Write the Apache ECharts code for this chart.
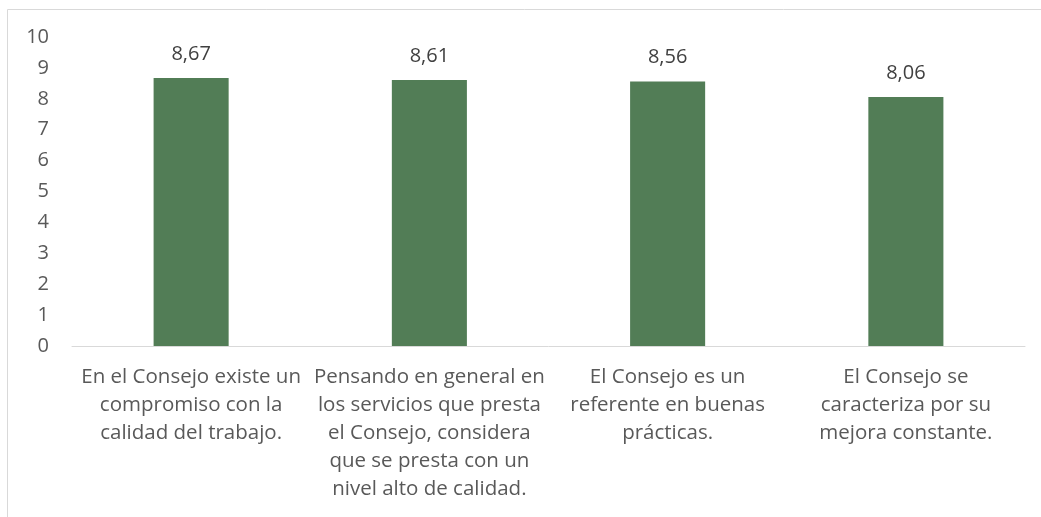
<!DOCTYPE html>
<html><head><meta charset="utf-8">
<script src="https://cdn.jsdelivr.net/npm/echarts@6/dist/echarts.min.js"></script>
<style>html,body{margin:0;padding:0;background:#fff}#c{width:1041px;height:517px}</style>
</head><body><div id="c"></div>
<script>
const categories = [
  "En el Consejo existe un\ncompromiso con la\ncalidad del trabajo.",
  "Pensando en general en\nlos servicios que presta\nel Consejo, considera\nque se presta con un\nnivel alto de calidad.",
  "El Consejo es un\nreferente en buenas\nprácticas.",
  "El Consejo se\ncaracteriza por su\nmejora constante."
];
const values = [8.67, 8.61, 8.56, 8.06];
const yTicks = [0, 10, 1];

const chart = echarts.init(document.getElementById('c'));
const font = '"Open Sans", sans-serif';
chart.setOption({
  animation: false,
  graphic: [{type:'rect', shape:{x:7.5,y:9.5,width:1100,height:600}, style:{fill:'none', stroke:'#d9d9d9', lineWidth:1}}],
  grid: {left: 72, right: 16, top: 37, bottom: 171},
  xAxis: {
    type: 'category', data: categories,
    axisLine: {lineStyle:{color:'#d9d9d9', width:1}},
    axisTick: {show:false},
    axisLabel: {color:'#595959', fontSize:20.5, fontFamily: font, lineHeight:28, margin:17, interval:0}
  },
  yAxis: {
    type: 'value', min: yTicks[0], max: yTicks[1], interval: yTicks[2],
    splitLine: {show:false}, axisLine:{show:false}, axisTick:{show:false},
    axisLabel: {color:'#595959', fontSize:20, fontFamily: font, margin:23}
  },
  series: [{
    type:'bar', data: values, barWidth:'31.5%',
    itemStyle:{color:'#527d56'},
    label:{show:true, position:'top', distance:14, color:'#404040', fontSize:20, fontFamily: font,
      formatter: p => p.value.toFixed(2).replace('.', ',')}
  }]
});
</script></body></html>
